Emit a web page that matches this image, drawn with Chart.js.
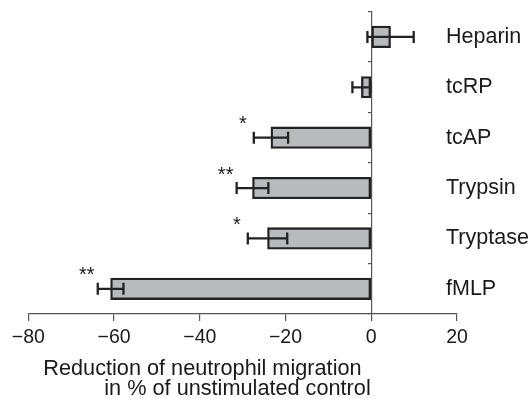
<!DOCTYPE html>
<html>
<head>
<meta charset="utf-8">
<script src="https://cdn.jsdelivr.net/npm/chart.js@4.4.1/dist/chart.umd.min.js"></script>
<style>
  html, body { margin: 0; padding: 0; background: #ffffff; }
  #wrap { width: 531px; height: 399px; }
</style>
</head>
<body>
<div id="wrap"><canvas id="c" width="531" height="399"></canvas></div>
<script>
// ---- data ----
const categories = ['Heparin', 'tcRP', 'tcAP', 'Trypsin', 'Tryptase', 'fMLP'];
const values = [4.5, -2.3, -23.4, -27.7, -24.2, -60.8];
const errors = [5.4, 2.1, 4.0, 3.7, 4.6, 3.0];
const significance = ['', '', '*', '**', '*', '**'];
const xTicks = [-80, -60, -40, -20, 0, 20];
const xTickLabels = ['\u221280', '\u221260', '\u221240', '\u221220', '0', '20'];
const xTitleLines = ['Reduction of neutrophil migration', 'in % of unstimulated control'];

const FONT = "'Liberation Sans', Arial, Helvetica, sans-serif";
const INK = '#1a1a1a';
const AXIS = '#555555';

const annotations = {
  id: 'annotations',
  afterDatasetsDraw(chart) {
    const ctx = chart.ctx;
    const xs = chart.scales.x;
    const meta = chart.getDatasetMeta(0);
    ctx.save();
    ctx.strokeStyle = '#222222';
    ctx.lineWidth = 2.3;
    ctx.fillStyle = INK;
    meta.data.forEach((bar, i) => {
      const y = bar.y;
      const lo = xs.getPixelForValue(values[i] - errors[i]);
      const hi = xs.getPixelForValue(values[i] + errors[i]);
      ctx.beginPath();
      ctx.moveTo(lo, y); ctx.lineTo(hi, y);
      ctx.moveTo(lo, y - 6); ctx.lineTo(lo, y + 6);
      ctx.moveTo(hi, y - 6); ctx.lineTo(hi, y + 6);
      ctx.stroke();
      if (significance[i]) {
        ctx.font = '20px ' + FONT;
        ctx.textAlign = 'center';
        ctx.textBaseline = 'alphabetic';
        ctx.fillText(significance[i], lo - 11, y - 7.5);
      }
    });
    ctx.restore();
  },
  afterDraw(chart) {
    const ctx = chart.ctx;
    const xs = chart.scales.x;
    const ys = chart.scales.y;
    const left = chart.chartArea.left;
    const bottom = chart.chartArea.bottom;
    ctx.save();
    ctx.fillStyle = INK;
    // category labels, left-aligned just inside the right end of the x scale
    ctx.font = '21.5px ' + FONT;
    ctx.textAlign = 'left';
    ctx.textBaseline = 'middle';
    categories.forEach((c, i) => {
      ctx.fillText(c, xs.right - 11, ys.getPixelForValue(i));
    });
    // two-line axis title
    ctx.font = '21.7px ' + FONT;
    ctx.textBaseline = 'alphabetic';
    ctx.fillText(xTitleLines[0], left + 15, bottom + 61);
    ctx.fillText(xTitleLines[1], left + 76, bottom + 81);
    ctx.restore();
  }
};

new Chart(document.getElementById('c'), {
  type: 'bar',
  data: {
    labels: categories,
    datasets: [{
      data: values,
      backgroundColor: '#b9babd',
      borderColor: '#222222',
      borderWidth: 2.3,
      borderSkipped: false,
      barThickness: 21.5
    }]
  },
  options: {
    indexAxis: 'y',
    responsive: false,
    animation: false,
    devicePixelRatio: 1,
    layout: { padding: { left: 28.3, top: 11.7, right: 74, bottom: 0 } },
    plugins: {
      legend: { display: false },
      tooltip: { enabled: false },
      title: { display: false }
    },
    scales: {
      x: {
        type: 'linear',
        position: 'bottom',
        min: -80,
        max: 20,
        afterBuildTicks(scale) { scale.ticks = xTicks.map(v => ({ value: v })); },
        afterFit(scale) { scale.height = 85; },
        grid: { display: true, drawOnChartArea: false, drawTicks: true, tickLength: 7, color: AXIS, tickColor: AXIS, lineWidth: 1.2 },
        border: { display: true, color: AXIS, width: 1.2 },
        ticks: {
          padding: 5,
          color: INK,
          font: { family: FONT, size: 19.5 },
          maxRotation: 0,
          callback: (v) => xTickLabels[xTicks.indexOf(v)]
        }
      },
      y: {
        type: 'category',
        position: { x: 0 },
        offset: true,
        grid: { display: true, offset: true, drawOnChartArea: false, drawTicks: true, tickLength: 3, color: AXIS, tickColor: AXIS, lineWidth: 1.2 },
        border: { display: true, color: AXIS, width: 1.2 },
        ticks: { display: false }
      }
    }
  },
  plugins: [annotations]
});
</script>
</body>
</html>
